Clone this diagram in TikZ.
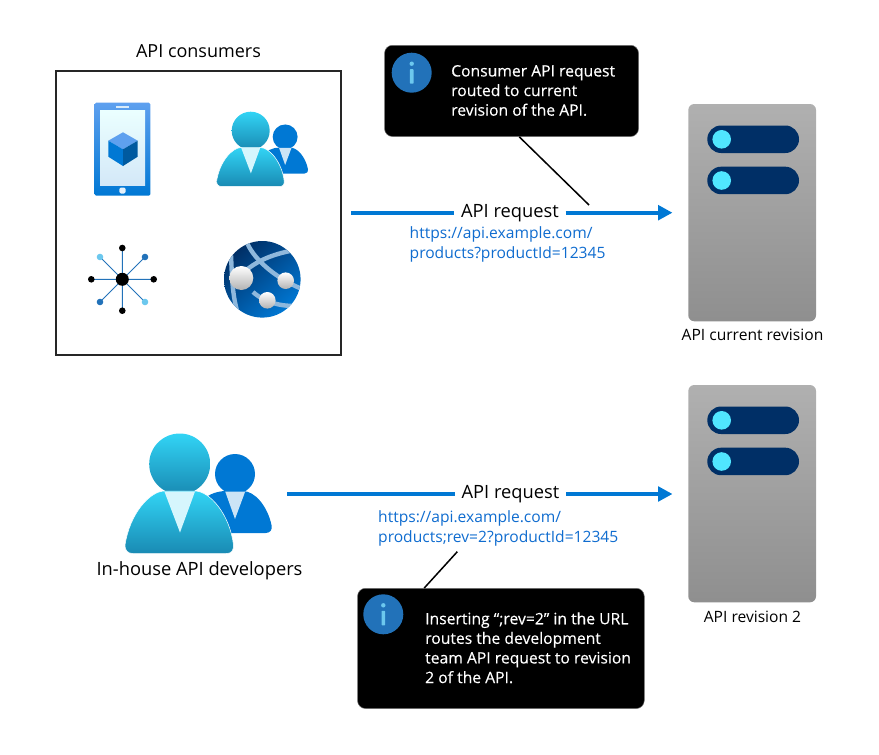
\documentclass[tikz,border=0pt]{standalone}
\usepackage{fontspec}
\setmainfont{Open Sans}
\newfontfamily\calloutfont[FakeBold=0.25]{Open Sans}
\usetikzlibrary{arrows.meta}
\definecolor{azure}{HTML}{0078D4}
\definecolor{urlblue}{HTML}{0F6CCF}
\definecolor{cyanhi}{HTML}{32D4F5}
\definecolor{cyanlo}{HTML}{198AB3}
\definecolor{infoblue}{HTML}{2272B9}
\definecolor{infoi}{HTML}{6CC8EE}
\definecolor{navy}{HTML}{002F66}
\definecolor{knob}{HTML}{50E6FF}
\definecolor{phonetop}{HTML}{5EA0EF}
\definecolor{globemid}{HTML}{0062B4}
\definecolor{globeband}{HTML}{8FB8DC}
\tikzset{
  flow/.style={draw=azure,line width=3.6pt},
  flowarrow/.style={flow,-{Triangle[length=14.5pt,width=14.6pt]}},
  reqlabel/.style={font=\fontsize{18.3}{22}\selectfont,inner sep=0pt,text=black},
  urltext/.style={font=\fontsize{15.6}{20}\selectfont,text=urlblue,align=left,anchor=west,inner sep=0pt},
  calloutbox/.style={fill=black,draw=black!55,line width=.5pt,rounded corners=8pt,anchor=north west,inner sep=0pt},
  callouttext/.style={font=\calloutfont\fontsize{15.7}{19.6}\selectfont,text=white,align=left,anchor=west,inner sep=0pt},
  caption/.style={font=\fontsize{15.6}{18}\selectfont,text=black,inner sep=0pt},
  title/.style={font=\fontsize{18}{20}\selectfont,text=black,inner sep=0pt},
  leader/.style={draw=black,line width=1.5pt},
  serverbox/.style={top color=black!31,bottom color=black!44,rounded corners=6pt},
  globeline/.style={draw=globeband,line width=4.4pt},
}
\newcommand{\apipeople}[3]{%
  \begin{scope}[shift={(#1,#2)},scale=#3]
    \fill[azure] (55.3,10) circle (20);
    \fill[azure] (22,69) -- (86,69) .. controls (91,69) and (92.5,65) .. (92,62)
      .. controls (88,42) and (75,27) .. (63,27) -- (47,27)
      .. controls (35,27) and (25,32) .. (20,40) -- cycle;
    \fill[white!80!azure] (45.5,27.5) -- (65.5,27.5) -- (55.3,55) -- cycle;
    \shade[top color=cyanhi,bottom color=cyanlo] (0,0) circle (30.5);
    \shade[top color=cyanhi,bottom color=cyanlo,draw=white,line width=.5pt]
      (-47,89.5) -- (47,89.5) .. controls (52,89.5) and (54,86) .. (53.8,81)
      .. controls (50,50) and (30,27) .. (15,27) -- (-15,27)
      .. controls (-30,27) and (-50,50) .. (-54.7,81)
      .. controls (-55,86) and (-52,89.5) .. (-47,89.5) -- cycle;
    \fill[white!80!cyanhi] (-15.3,27.5) -- (15.3,27.5) -- (0.3,68.5) -- cycle;
  \end{scope}}
\newcommand{\apiserver}[1]{%
  \begin{scope}[shift={(0,#1)}]
    \shade[serverbox] (688.3,0) rectangle (816,217.3);
    \fill[navy,rounded corners=13.7pt] (707.3,21.5) rectangle (799,49);
    \fill[navy,rounded corners=13.7pt] (707.3,62.7) rectangle (799,90.2);
    \fill[knob] (721.7,35.3) circle (9.3);
    \fill[knob] (721.7,76.5) circle (9.3);
  \end{scope}}
\newcommand{\apiinfo}[2]{%
  \fill[infoblue] (#1,#2) circle (20);
  \fill[infoi] (#1,#2-9) circle (2.2);
  \fill[infoi,rounded corners=.6pt] (#1-1.8,#2-3.5) rectangle (#1+1.8,#2+11);}
\begin{document}
\begin{tikzpicture}[x=1pt,y=-1pt]
\useasboundingbox (0,0) rectangle (879,755);
% consumers frame
\node[title] (consumers) at (198.5,51) {API consumers};
\node[draw=black!85,line width=1.5pt,minimum width=285pt,minimum height=284pt,anchor=north west,inner sep=0pt] (frame) at (55,70) {};
% phone
\shade[top color=phonetop,bottom color=azure,rounded corners=1.5pt] (94.7,102.7) rectangle (150.3,195.7);
\shade[top color=white!92!cyan,bottom color=azure!17] (100,110.5) rectangle (145,185);
\fill[white!85!azure] (116,105.8) rectangle (129,107.6);
\fill[white!90!azure,rounded corners=1.5pt] (119.3,187.5) rectangle (125.7,193.5);
\fill[phonetop] (123,132.3) -- (137.7,140.7) -- (123,149.3) -- (108.3,140.7) -- cycle;
\fill[azure] (108.3,140.7) -- (123,149.3) -- (123,166) -- (108.3,156.7) -- cycle;
\fill[azure!75!black] (137.7,140.7) -- (123,149.3) -- (123,166) -- (137.7,156.7) -- cycle;
% people small
\apipeople{250.7}{130.7}{.623}
% hub
\draw[infoblue,line width=1pt] (122.3,248) -- (122.3,310.7) (91.3,279.3) -- (153.7,279.3) (100,257) -- (145,302) (145,257) -- (100,302);
\fill[black] (122.3,279.3) circle (6.5) (122.3,248) circle (3.3) (122.3,310.7) circle (3.3) (91.3,279.3) circle (3.3) (153.7,279.3) circle (3.3);
\fill[infoi] (100,257) circle (3.3) (145,302) circle (3.3);
\fill[infoblue] (145,257) circle (3.3) (100,302) circle (3.3);
% globe
\begin{scope}
  \clip (262.3,279.3) circle (38.3);
  \shade[top color=navy,middle color=globemid,bottom color=azure,shading angle=40] (224,241) rectangle (301,318);
  \draw[globeline] (246,240) .. controls (252,258) and (275,278) .. (302,289);
  \draw[globeline] (244,272) .. controls (260,258) and (280,252) .. (302,249);
  \draw[globeline] (231,255) .. controls (232,275) and (232,295) .. (238,314);
  \draw[globeline] (253,292) .. controls (265,303) and (285,308) .. (302,305);
\end{scope}
\shade[top color=white,bottom color=black!30] (241.3,278) circle (12);
\shade[top color=white,bottom color=black!30] (285.7,280.7) circle (8.3);
\shade[top color=white,bottom color=black!30] (267.3,300.3) circle (8.3);
% top flow
\coordinate (start1) at (351,212.7);
\coordinate (end1) at (672.5,212.7);
\node[reqlabel,minimum width=111pt,minimum height=20pt] (req1) at (510,212.7) {\raisebox{-1pt}{API request}};
\draw[flow] (start1) -- (req1.west);
\draw[flowarrow] (req1.east) -- (end1);
\node[urltext] (url1) at (409.5,244) {https://api.example.com/\\products?productId=12345};
% callout 1
\node[calloutbox,minimum width=254pt,minimum height=91.3pt] (callout1) at (384.3,45) {};
\apiinfo{411.7}{72.7}
\node[callouttext] (text1) at (451,90.5) {Consumer API request\\routed to current\\revision of the API.};
\coordinate (tip1) at (589,205);
\draw[leader] ([xshift=7.7pt]callout1.south) -- (tip1);
% servers
\apiserver{104}
\node[caption] (srv1) at (752.5,334.5) {API current revision};
\apiserver{385}
\node[caption] (srv2) at (752.5,616.5) {API revision 2};
% developers
\apipeople{179.7}{464}{1}
\node[font=\fontsize{18.3}{20}\selectfont,inner sep=0pt] (devs) at (199.5,570.5) {In-house API developers};
% bottom flow
\coordinate (start2) at (287,494);
\coordinate (end2) at (672.5,494);
\node[reqlabel,minimum width=111pt,minimum height=20pt] (req2) at (510.5,494) {\raisebox{-.5pt}{API request}};
\draw[flow] (start2) -- (req2.west);
\draw[flowarrow] (req2.east) -- (end2);
\node[urltext] (url2) at (378,528) {https://api.example.com/\\products;rev=2?productId=12345};
% callout 2
\node[calloutbox,minimum width=286.7pt,minimum height=120.3pt] (callout2) at (357.3,588) {};
\apiinfo{383.3}{614.3}
\node[callouttext] (text2) at (425,647.8) {Inserting “;rev=2” in the URL\\routes the development\\team API request to revision\\2 of the API.};
\coordinate (tip2) at (457.3,551.7);
\draw[leader] ([xshift=-76.65pt]callout2.north) -- (tip2);
\end{tikzpicture}
\end{document}
